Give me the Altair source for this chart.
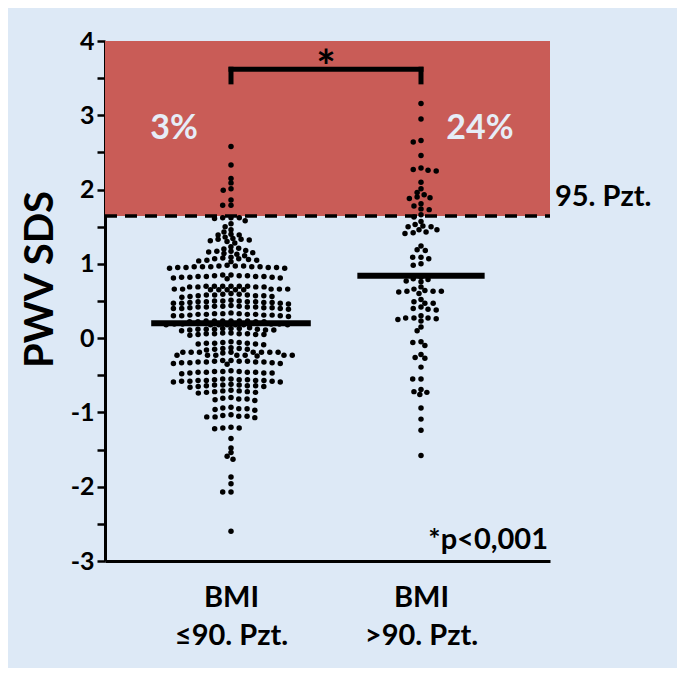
import altair as alt
import pandas as pd
import numpy as np

# ---------------- data ----------------
group_ids = [1, 2]
group_labels = [["BMI", "\u226490. Pzt."], ["BMI", ">90. Pzt."]]

pwv_normal = [
    2.58, 2.33, 2.15, 2.09, 2.01, 1.99, 1.86, 1.79, 1.79,
    1.62, 1.62, 1.62, 1.61,
    1.58, 1.54, 1.50, 1.46,
    1.43, 1.40, 1.39, 1.39,
    1.36, 1.34, 1.33, 1.33, 1.32, 1.31, 1.30, 1.28,
    1.23, 1.21, 1.20, 1.18, 1.17, 1.17, 1.16, 1.15, 1.14, 1.13,
    1.11, 1.09, 1.08, 1.07, 1.07, 1.06, 1.05, 1.05, 1.04, 1.03,
    0.98, 0.97, 0.97, 0.97, 0.96, 0.96, 0.96, 0.96, 0.96, 0.95, 0.95, 0.95, 0.95, 0.94, 0.94,
    0.85, 0.85, 0.84, 0.84, 0.84, 0.83, 0.83, 0.83, 0.83, 0.82, 0.82, 0.82, 0.81, 0.81, 0.80,
    0.70, 0.70, 0.70, 0.70, 0.70, 0.70, 0.69, 0.69, 0.69, 0.69,
    0.66, 0.66, 0.66, 0.66, 0.66, 0.65, 0.65, 0.65, 0.65, 0.65,
    0.60, 0.59, 0.59, 0.58, 0.58, 0.58, 0.57, 0.57, 0.57, 0.56, 0.56, 0.55,
    0.51, 0.50, 0.50, 0.50, 0.49, 0.49, 0.49, 0.49, 0.48, 0.48, 0.48, 0.47, 0.47, 0.47, 0.46,
    0.44, 0.43, 0.43, 0.43, 0.42, 0.42, 0.42, 0.42, 0.41, 0.41, 0.41, 0.40, 0.40, 0.40, 0.39,
    0.34, 0.33, 0.33, 0.33, 0.32, 0.32, 0.32, 0.32, 0.31, 0.31, 0.31, 0.30, 0.30, 0.30, 0.29,
    0.23, 0.23, 0.23, 0.23, 0.23, 0.23, 0.22, 0.22, 0.22, 0.22,
    0.19, 0.19, 0.19, 0.19, 0.18, 0.18, 0.18, 0.18, 0.18, 0.18, 0.18,
    0.14, 0.13, 0.13, 0.13, 0.12, 0.12, 0.12, 0.12, 0.11, 0.11, 0.11, 0.10,
    0.07, 0.07, 0.06, 0.06, 0.06, 0.06, 0.05, 0.05, 0.05, 0.04,
    -0.05, -0.06, -0.06, -0.07, -0.07, -0.07, -0.08, -0.08, -0.09,
    -0.13, -0.14, -0.14, -0.15, -0.15, -0.16,
    -0.19, -0.19, -0.19, -0.19, -0.19, -0.19, -0.19, -0.19, -0.20,
    -0.23, -0.23, -0.23, -0.23, -0.23, -0.23, -0.23, -0.24,
    -0.30, -0.30, -0.31, -0.31, -0.31, -0.32, -0.32, -0.32, -0.32, -0.33, -0.33, -0.33, -0.34,
    -0.34, -0.35,
    -0.44, -0.45, -0.45, -0.45, -0.46, -0.46, -0.46, -0.46, -0.47, -0.47, -0.47, -0.48,
    -0.55, -0.55, -0.56, -0.56, -0.56, -0.57, -0.57, -0.57, -0.57, -0.58, -0.58, -0.58, -0.59,
    -0.59,
    -0.62, -0.63, -0.63, -0.63, -0.64, -0.64, -0.64, -0.65, -0.65, -0.66,
    -0.70, -0.71, -0.71, -0.72, -0.72, -0.73, -0.73, -0.74,
    -0.80, -0.81, -0.82, -0.82, -0.83, -0.84,
    -0.93, -0.94, -0.95, -0.95, -0.96, -0.97,
    -1.03, -1.04, -1.05, -1.05, -1.06, -1.06, -1.07,
    -1.20, -1.21, -1.21, -1.22,
    -1.35, -1.48, -1.54, -1.59, -1.63, -1.87, -1.96, -2.07, -2.07, -2.60,
]

pwv_obese = [
    3.16, 2.95, 2.66, 2.64, 2.46, 2.29, 2.27, 2.26, 2.25, 2.10, 2.01, 1.96, 1.93,
    1.90, 1.89, 1.88, 1.81, 1.78, 1.74, 1.73, 1.66, 1.63,
    1.57, 1.53, 1.51, 1.50, 1.50, 1.46, 1.46, 1.43, 1.42, 1.41,
    1.24, 1.19, 1.18, 1.09, 1.09, 1.07, 1.00, 0.98,
    0.82, 0.80, 0.79, 0.77, 0.76,
    0.69, 0.66, 0.64, 0.63, 0.63, 0.63, 0.62, 0.60, 0.52,
    0.49, 0.47, 0.47, 0.42, 0.40, 0.39, 0.38,
    0.30, 0.27, 0.27, 0.27, 0.26, 0.25, 0.23, 0.15, 0.10,
    -0.05, -0.06, -0.10, -0.22, -0.26, -0.27, -0.39, -0.55, -0.55,
    -0.69, -0.72, -0.73, -0.76, -0.94, -1.09, -1.24, -1.58,
]

group_means = [0.20, 0.84]
mean_halfwidth = [0.42, 0.335]
pct_labels = ["3%", "24%"]
pct_x = [0.70, 2.31]
pct_y = [2.81, 2.81]
threshold = 1.645
y_top = 4
bracket_y = 3.62
bracket_leg = 3.45

# ---------------- layout ----------------
W, H = 445, 520
PX_PER_Y = H / 7.0
PX_PER_X = 190.0
x_lo = 1 - 126 / PX_PER_X
x_hi = 1 + 319 / PX_PER_X
BG = "#dde9f6"
RED = "#c95c57"
FONT = "Lato"


def swarm(values, dx=8.3, dy=4.2):
    order = sorted(range(len(values)), key=lambda i: -values[i])
    placed = []
    offs = [0.0] * len(values)
    for i in order:
        y = values[i] * PX_PER_Y
        intervals = []
        for (px, py) in placed:
            d = abs(py - y) / dy
            if d < 1:
                half = dx * np.sqrt(1 - d * d)
                intervals.append((px - half, px + half))
        cands = [0.0] + [a for a, b in intervals] + [b for a, b in intervals]
        cands.sort(key=lambda c: (round(abs(c), 6), c))
        chosen = 0.0
        for c in cands:
            if all(not (a + 1e-6 < c < b - 1e-6) for a, b in intervals):
                chosen = c
                break
        offs[i] = chosen
        placed.append((chosen, y))
    return offs


rows = []
for gid, vals in zip(group_ids, [pwv_normal, pwv_obese]):
    offs = swarm(vals)
    for v, o in zip(vals, offs):
        rows.append({"x": gid + o / PX_PER_X, "y": v})
points = pd.DataFrame(rows)

x_scale = alt.Scale(domain=[x_lo, x_hi], nice=False, zero=False)
y_scale = alt.Scale(domain=[-3, 4], nice=False, zero=False)

label_expr = " : ".join(
    [f"datum.value == {g} ? {lab!r}" for g, lab in zip(group_ids[:-1], group_labels[:-1])]
    + [repr(group_labels[-1])]
)

x_axis = alt.Axis(values=group_ids, labelExpr=label_expr, ticks=False, title=None,
                  grid=False, labelAngle=0, labelBaseline="top")
y_axis = alt.Axis(
    values=[v / 2 for v in range(-6, 9)],
    labelExpr="datum.value % 1 == 0 ? (datum.value < 0 ? '-' + abs(datum.value) : '' + datum.value) : ''",
    title="PWV SDS", grid=False, titleY=238)


def X(f):
    return alt.X(f, scale=x_scale, axis=x_axis)


def Y(f):
    return alt.Y(f, scale=y_scale, axis=y_axis)


band = alt.Chart(pd.DataFrame({"y": [threshold], "y2": [y_top]})).mark_rect(
    color=RED
).encode(x=alt.value(0), x2=alt.value(W), y=Y("y:Q"), y2="y2:Q")

dash = alt.Chart(pd.DataFrame({"y": [threshold]})).mark_rule(
    color="black", strokeWidth=3.5, strokeDash=[12, 8]
).encode(x=alt.value(0), x2=alt.value(W), y=Y("y:Q"))

pts = alt.Chart(points).mark_circle(size=30, color="black", opacity=1).encode(
    x=X("x:Q"), y=Y("y:Q"))

mean_df = pd.DataFrame({
    "x": [g - h for g, h in zip(group_ids, mean_halfwidth)],
    "x2": [g + h for g, h in zip(group_ids, mean_halfwidth)],
    "y": group_means,
})
mean_lines = alt.Chart(mean_df).mark_rule(color="black", strokeWidth=6).encode(
    x=X("x:Q"), x2="x2:Q", y=Y("y:Q"))

br_h = alt.Chart(pd.DataFrame({"x": [group_ids[0]], "x2": [group_ids[1]], "y": [bracket_y]})).mark_rule(
    color="black", strokeWidth=5, strokeCap="square"
).encode(x=X("x:Q"), x2="x2:Q", y=Y("y:Q"))
br_v = alt.Chart(pd.DataFrame({"x": group_ids, "y": [bracket_y] * 2, "y2": [bracket_leg] * 2})).mark_rule(
    color="black", strokeWidth=5, strokeCap="square"
).encode(x=X("x:Q"), y=Y("y:Q"), y2="y2:Q")

star = alt.Chart(pd.DataFrame({"x": [1.5], "y": [3.62], "t": ["*"]})).mark_text(
    font=FONT, fontSize=46, fontWeight="bold", color="black", baseline="middle"
).encode(x=X("x:Q"), y=Y("y:Q"), text="t:N")

pct = alt.Chart(pd.DataFrame({"x": pct_x, "y": pct_y, "t": pct_labels})).mark_text(
    font=FONT, fontSize=34, fontWeight="bold", color="#e6edf7", baseline="middle"
).encode(x=X("x:Q"), y=Y("y:Q"), text="t:N")

pzt = alt.Chart(pd.DataFrame({"x": [2.705], "y": [1.9], "t": ["95. Pzt."]})).mark_text(
    font=FONT, fontSize=29, fontWeight="bold", color="black", baseline="middle", align="left"
).encode(x=X("x:Q"), y=Y("y:Q"), text="t:N")

pval = alt.Chart(pd.DataFrame({"x": [x_hi], "y": [-2.72], "t": ["*p<0,001"]})).mark_text(
    font=FONT, fontSize=29, fontWeight="bold", color="black", baseline="middle", align="right", dx=-2
).encode(x=X("x:Q"), y=Y("y:Q"), text="t:N")

chart = alt.layer(band, dash, pts, mean_lines, br_h, br_v, star, pct, pzt, pval).properties(
    width=W, height=H,
    padding={"left": 97, "top": 33, "right": 127, "bottom": 107},
    autosize=alt.AutoSizeParams(type="none"),
    background=BG,
).configure_view(stroke=None).configure_axis(
    domainWidth=3, domainColor="black", labelColor="black", labelFont=FONT,
    labelFontWeight="bold", titleFont=FONT, titleFontWeight="bold", titleColor="black",
).configure_axisY(
    tickColor="black", tickWidth=2.5, tickSize=8, labelFontSize=25, labelPadding=3,
    titleFontSize=40, titlePadding=10,
).configure_axisX(
    labelFontSize=29, labelLineHeight=38, labelPadding=22,
)

chart.save("out.html", embed_options={"renderer": "svg", "actions": False})
